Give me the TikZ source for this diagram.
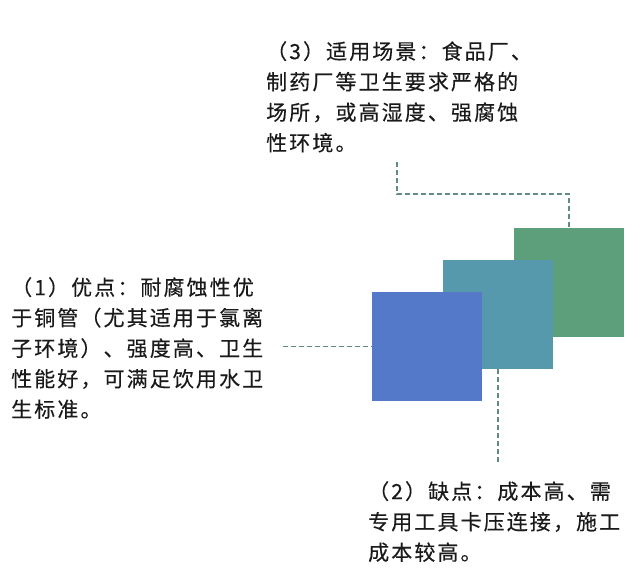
\documentclass[tikz,border=0pt]{standalone}
\usepackage{fontspec}
\setmainfont{Noto Sans CJK SC}[LetterSpace=10,FakeBold=0.3]
\usetikzlibrary{positioning}
\definecolor{boxgreen}{RGB}{94,159,123}
\definecolor{boxteal}{RGB}{86,152,172}
\definecolor{boxblue}{RGB}{85,121,201}
\definecolor{linkgray}{RGB}{96,140,136}
\definecolor{notetext}{RGB}{26,26,26}
\tikzset{
    square/.style={minimum width=110pt,minimum height=109pt,inner sep=0pt,outer sep=0pt},
    note/.style={anchor=north west,inner sep=0pt,align=left,text=notetext,
        font=\fontsize{21}{30.5}\selectfont},
    link/.style={draw=linkgray,line width=1.9pt,dash pattern=on 5pt off 3pt}
}
\begin{document}
\begin{tikzpicture}[x=1pt,y=-1pt]
    \useasboundingbox[fill=white] (0,0) rectangle (642,576);
    % stacked squares
    \node[square,fill=boxgreen] (green) at (569,282.5) {};
    \node[square,fill=boxteal] (teal) at (498,314.5) {};
    \node[square,fill=boxblue] (blue) at (426.5,346.5) {};
    % notes
    \node[note] (scene) at (266,41) {（3）适用场景：食品厂、\\制药厂等卫生要求严格的\\场所，或高湿度、强腐蚀\\性环境。};
    \node[note] (merit) at (11,277) {（1）优点：耐腐蚀性优\\于铜管（尤其适用于氯离\\子环境）、强度高、卫生\\性能好，可满足饮用水卫\\生标准。};
    \node[note] (flaw) at (368,481) {（2）缺点：成本高、需\\专用工具卡压连接，施工\\成本较高。};
    % connectors
    \coordinate (sceneend) at (397,162);
    \coordinate (scenebend) at (397,194);
    \coordinate (meritend) at (283,346.5);
    \coordinate (flawend) at (498,463);
    \draw[link] (sceneend) -- (scenebend) -| (green.north);
    \draw[link] (meritend) -- (blue.west);
    \draw[link] (teal.south) -- (flawend);
\end{tikzpicture}
\end{document}
